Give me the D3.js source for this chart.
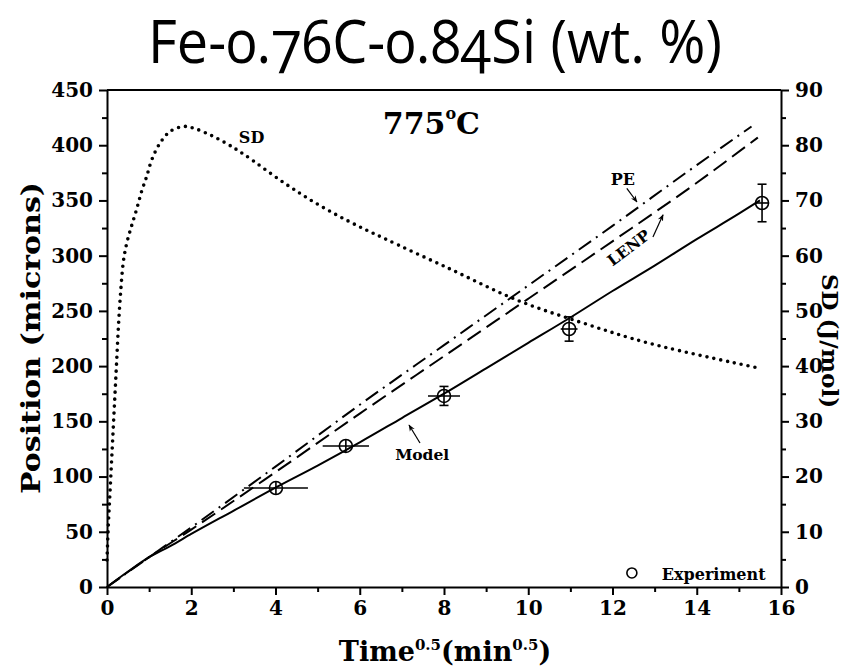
<!DOCTYPE html>
<html>
<head>
<meta charset="utf-8">
<script src="https://cdn.jsdelivr.net/npm/d3@7"></script>
<style>
    body { margin: 0; background: #fff; }
    .axis text { font-family: "DejaVu Serif", serif; font-weight: bold; font-size: 20px; fill: #000; }
    .axis path, .axis line { stroke: #000; stroke-width: 2; }
    .lbl { font-family: "DejaVu Serif", serif; font-weight: bold; fill: #000; }
</style>
</head>
<body>
<div id="chart"></div>
<script>
// Model (solid)
const modelTime = [0, 0.5, 1, 1.5, 2, 3, 4, 5, 6, 7, 8, 9, 10, 11, 12, 13, 14, 15, 15.5];
const modelPos  = [0, 14, 27, 37, 48, 69, 90, 110, 131, 153, 175, 198, 221, 244, 268, 291, 315, 338, 350];

// PE (dash-dot)
const peTime = [0, 1, 2, 4, 6, 8, 10, 12, 14, 15.3];
const pePos  = [0, 27, 54, 109, 165, 219, 273, 327, 382, 417];

// LENP (dashed)
const lenpTime = [0, 1, 2, 4, 6, 8, 10, 12, 14, 15.45];
const lenpPos  = [0, 27, 52, 104, 157, 209, 261, 313, 366, 407];

// SD (dotted, right axis, J/mol)
const sdTime  = [0, 0.03, 0.07, 0.11, 0.15, 0.19, 0.23, 0.27, 0.32, 0.39, 0.47, 0.58, 0.7, 0.82, 0.94, 1.06, 1.26, 1.5, 1.81, 2.05, 2.44, 2.84, 3.24, 4.2, 4.98, 5.77, 6.56, 8.14, 9.72, 11.3, 12.89, 15.5];
const sdValue = [4.9, 11, 17, 23, 29, 35, 41, 47, 53, 59, 62.3, 65.3, 68.3, 71.6, 74.3, 77.3, 80.4, 82.5, 83.4, 83.1, 81.9, 80.3, 78.4, 73.2, 69.4, 66.1, 63.2, 57.6, 52, 47.8, 44.1, 39.6];

// Experiment
const expTime    = [4.01, 5.67, 8.0, 10.97, 15.55];
const expPos     = [89.6, 127.7, 173, 233.6, 347.7];
const expTimeErr = [0.76, 0.55, 0.38, 0.2, 0];
const expPosErr  = [0, 5, 8.6, 11, 17];

const xTicks = d3.range(0, 17, 2);
const yTicks = d3.range(0, 451, 50);
const y2Ticks = d3.range(0, 91, 10);

class PositionChart {
    constructor(config) {
        this.config = {
            parentElement: config.parentElement,
            containerWidth: 852,
            containerHeight: 670,
            margin: { top: 90, right: 71, bottom: 83, left: 107 }
        };
        this.initVis();
    }

    initVis() {
        let vis = this;
        const m = vis.config.margin;
        vis.width = vis.config.containerWidth - m.left - m.right;
        vis.height = vis.config.containerHeight - m.top - m.bottom;

        vis.svg = d3.select(vis.config.parentElement).append('svg')
            .attr('width', vis.config.containerWidth)
            .attr('height', vis.config.containerHeight);

        vis.xScale = d3.scaleLinear().domain([0, 16]).range([0, vis.width]);
        vis.yScale = d3.scaleLinear().domain([0, 450]).range([vis.height, 0]);
        vis.y2Scale = d3.scaleLinear().domain([0, 90]).range([vis.height, 0]);

        // arrow head marker
        vis.svg.append('defs').append('marker')
            .attr('id', 'arrow')
            .attr('viewBox', '0 0 10 10')
            .attr('refX', 9).attr('refY', 5)
            .attr('markerWidth', 7).attr('markerHeight', 7)
            .attr('markerUnits', 'userSpaceOnUse')
            .attr('orient', 'auto')
            .append('path')
            .attr('d', 'M0,1 L10,5 L0,9 L3,5 Z')
            .attr('fill', '#000');

        // Title
        vis.svg.append('text')
            .attr('x', 435).attr('y', 63)
            .attr('text-anchor', 'middle')
            .attr('textLength', 574)
            .attr('lengthAdjust', 'spacingAndGlyphs')
            .style('font-family', '"Open Sans", sans-serif')
            .style('font-feature-settings', '"onum"')
            .style('font-size', '60px')
            .text('Fe-0.76C-0.84Si (wt. %)');

        vis.chart = vis.svg.append('g')
            .attr('transform', `translate(${m.left},${m.top})`);
    }

    renderVis() {
        let vis = this;
        const x = vis.xScale, y = vis.yScale, y2 = vis.y2Scale;

        // minor ticks
        vis.chart.append('g').attr('class', 'axis')
            .attr('transform', `translate(0,${vis.height})`)
            .call(d3.axisBottom(x).tickValues(d3.range(1, 16, 2)).tickSize(5).tickFormat(''))
            .call(g => g.select('.domain').remove());
        vis.chart.append('g').attr('class', 'axis')
            .call(d3.axisLeft(y).tickValues(d3.range(25, 450, 50)).tickSize(5).tickFormat(''))
            .call(g => g.select('.domain').remove());
        vis.chart.append('g').attr('class', 'axis')
            .attr('transform', `translate(${vis.width},0)`)
            .call(d3.axisRight(y2).tickValues(d3.range(5, 90, 10)).tickSize(5).tickFormat(''))
            .call(g => g.select('.domain').remove());

        // major axes
        vis.chart.append('g').attr('class', 'axis')
            .attr('transform', `translate(0,${vis.height})`)
            .call(d3.axisBottom(x).tickValues(xTicks).tickSize(8).tickSizeOuter(0).tickPadding(6));
        vis.chart.append('g').attr('class', 'axis')
            .call(d3.axisLeft(y).tickValues(yTicks).tickSize(8).tickSizeOuter(0).tickPadding(6));
        vis.chart.append('g').attr('class', 'axis')
            .attr('transform', `translate(${vis.width},0)`)
            .call(d3.axisRight(y2).tickValues(y2Ticks).tickSize(8).tickSizeOuter(0).tickPadding(6));

        // top border
        vis.chart.append('line')
            .attr('x1', 0).attr('x2', vis.width)
            .attr('y1', 0).attr('y2', 0)
            .attr('stroke', '#000').attr('stroke-width', 2);

        const lineOf = (ts, vs, ys, curve) => d3.line()
            .x((d, i) => x(ts[i]))
            .y((d, i) => ys(vs[i]))
            .curve(curve || d3.curveMonotoneX)(ts);

        vis.chart.append('path')
            .attr('d', lineOf(sdTime, sdValue, y2, d3.curveCatmullRom.alpha(0.5)))
            .attr('fill', 'none').attr('stroke', '#000')
            .attr('stroke-width', 3.6)
            .attr('stroke-linecap', 'round')
            .attr('stroke-dasharray', '0 7');

        vis.chart.append('path')
            .attr('d', lineOf(lenpTime, lenpPos, y))
            .attr('fill', 'none').attr('stroke', '#000')
            .attr('stroke-width', 2)
            .attr('stroke-dasharray', '16 7');

        vis.chart.append('path')
            .attr('d', lineOf(peTime, pePos, y))
            .attr('fill', 'none').attr('stroke', '#000')
            .attr('stroke-width', 2)
            .attr('stroke-dasharray', '15 6 2 6');

        vis.chart.append('path')
            .attr('d', lineOf(modelTime, modelPos, y))
            .attr('fill', 'none').attr('stroke', '#000')
            .attr('stroke-width', 2);

        // experiment points with error bars
        const r = 6.5;
        const pts = vis.chart.selectAll('.exp')
            .data(expTime)
            .join('g')
            .attr('class', 'exp')
            .attr('transform', (d, i) => `translate(${x(d)},${y(expPos[i])})`);

        pts.append('line')
            .attr('x1', (d, i) => Math.min(-r, x(d - expTimeErr[i]) - x(d)))
            .attr('x2', (d, i) => Math.max(r, x(d + expTimeErr[i]) - x(d)))
            .attr('y1', 0).attr('y2', 0)
            .attr('stroke', '#000').attr('stroke-width', 1.6);
        pts.append('line')
            .attr('x1', 0).attr('x2', 0)
            .attr('y1', (d, i) => Math.min(-r, y(expPos[i] + expPosErr[i]) - y(expPos[i])))
            .attr('y2', (d, i) => Math.max(r, y(expPos[i] - expPosErr[i]) - y(expPos[i])))
            .attr('stroke', '#000').attr('stroke-width', 1.6);
        pts.each(function(d, i) {
            const h = y(expPos[i] - expPosErr[i]) - y(expPos[i]);
            if (h <= r) return;
            const g = d3.select(this);
            [-h, h].forEach(v => g.append('line')
                .attr('x1', -4.5).attr('x2', 4.5).attr('y1', v).attr('y2', v)
                .attr('stroke', '#000').attr('stroke-width', 1.6));
        });
        pts.append('circle')
            .attr('r', r)
            .attr('fill', 'none')
            .attr('stroke', '#000').attr('stroke-width', 1.6);

        // annotations
        const lbl = (tx, ty, s, size) => vis.chart.append('text')
            .attr('class', 'lbl')
            .attr('x', tx).attr('y', ty)
            .style('font-size', size + 'px')
            .text(s);

        lbl(x(3.13), y2(80.4), 'SD', 16);
        lbl(x(11.96), y(364), 'PE', 16);
        lbl(x(6.84), y(115), 'Model', 15.5);
        vis.chart.append('text')
            .attr('class', 'lbl')
            .attr('transform', `translate(${x(12.0)},${y(290)}) rotate(-37)`)
            .style('font-size', '15.5px')
            .text('LENP');

        const arrow = (t1, p1, t2, p2) => vis.chart.append('line')
            .attr('x1', x(t1)).attr('y1', y(p1))
            .attr('x2', x(t2)).attr('y2', y(p2))
            .attr('stroke', '#000').attr('stroke-width', 1.2)
            .attr('marker-end', 'url(#arrow)');
        arrow(12.34, 361, 12.58, 348.6);
        arrow(12.96, 317, 13.2, 337);
        arrow(7.43, 130.4, 7.17, 146.7);

        // temperature
        const temp = vis.chart.append('text')
            .attr('class', 'lbl')
            .attr('x', x(7.7)).attr('y', y(410))
            .attr('text-anchor', 'middle')
            .style('font-size', '30px');
        temp.append('tspan').text('775');
        temp.append('tspan').attr('dy', -15).style('font-size', '16px').text('o');
        temp.append('tspan').attr('dy', 15).text('C');

        // legend
        vis.chart.append('circle')
            .attr('cx', x(12.46)).attr('cy', y(12.7))
            .attr('r', 5)
            .attr('fill', 'none').attr('stroke', '#000').attr('stroke-width', 1.6);
        lbl(x(13.17), y(6.3), 'Experiment', 16);

        // axis titles
        vis.svg.append('text')
            .attr('class', 'lbl')
            .attr('transform', 'translate(40,338) rotate(-90)')
            .attr('text-anchor', 'middle')
            .attr('textLength', 312)
            .attr('lengthAdjust', 'spacingAndGlyphs')
            .style('font-size', '26px')
            .text('Position (microns)');

        vis.svg.append('text')
            .attr('class', 'lbl')
            .attr('transform', 'translate(822,341) rotate(90)')
            .attr('text-anchor', 'middle')
            .style('font-size', '23px')
            .text('SD (J/mol)');

        const xt = vis.svg.append('text')
            .attr('class', 'lbl')
            .attr('x', 445).attr('y', 661)
            .attr('text-anchor', 'middle')
            .style('font-size', '27px');
        xt.append('tspan').text('Time');
        xt.append('tspan').attr('dy', -11).style('font-size', '15px').text('0.5');
        xt.append('tspan').attr('dy', 11).text('(min');
        xt.append('tspan').attr('dy', -11).style('font-size', '15px').text('0.5');
        xt.append('tspan').attr('dy', 11).text(')');
    }
}

const chart = new PositionChart({ parentElement: '#chart' });
chart.renderVis();
</script>
</body>
</html>
